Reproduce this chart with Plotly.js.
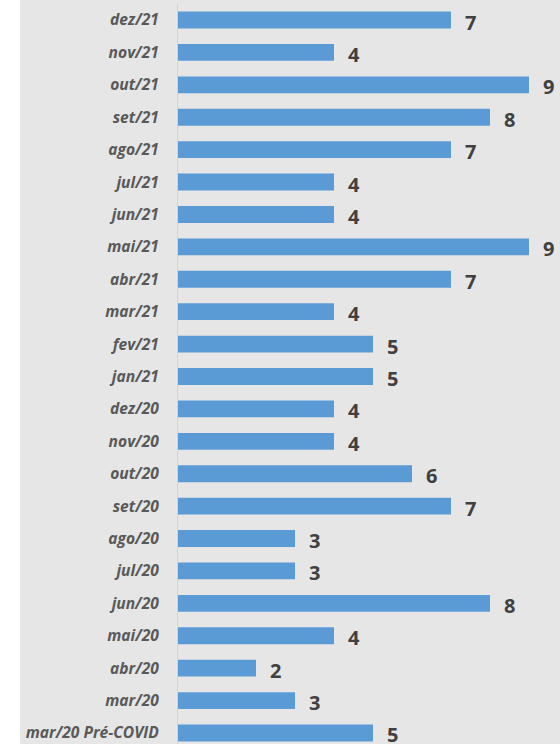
<!DOCTYPE html>
<html>
<head>
<meta charset="utf-8">
<script src="https://cdn.plot.ly/plotly-3.0.1.min.js"></script>
<style>html,body{margin:0;padding:0;background:#fff;}#chart{width:560px;height:744px;}</style>
</head>
<body>
<div id="chart"></div>
<script>
const categories = ["mar/20 Pré-COVID","mar/20","abr/20","mai/20","jun/20","jul/20","ago/20","set/20","out/20","nov/20","dez/20","jan/21","fev/21","mar/21","abr/21","mai/21","jun/21","jul/21","ago/21","set/21","out/21","nov/21","dez/21"];
const values = [5,3,2,4,8,3,3,7,6,4,4,5,5,4,7,9,4,4,7,8,9,4,7];

const trace = {
  type: 'bar',
  orientation: 'h',
  y: categories,
  x: values,
  marker: {color: '#5b9bd5'},
  hoverinfo: 'none'
};

const annotations = values.map((v, i) => ({
  x: v, y: categories[i], xref: 'x', yref: 'y',
  text: String(v), showarrow: false, xanchor: 'left', yanchor: 'middle',
  xshift: 12, yshift: -2, font: {family: 'Open Sans', size: 20, color: '#404040', weight: 'bold'}
}));

const layout = {
  width: 560, height: 744,
  margin: {l: 178, r: 0, t: 4, b: 0, pad: 0},
  paper_bgcolor: '#e6e6e6',
  plot_bgcolor: '#e6e6e6',
  bargap: 0.48,
  showlegend: false,
  xaxis: {range: [0, 382/39], visible: false, fixedrange: true},
  yaxis: {
    type: 'category',
    range: [-0.34, 22.494],
    showline: true, linecolor: '#d4d4d4', linewidth: 1,
    showgrid: false, zeroline: false, ticks: '',
    ticklabelstandoff: 15,
    tickfont: {family: 'Open Sans', size: 15.6, color: '#595959', weight: 'bold', style: 'italic'}
  },
  shapes: [{type: 'rect', xref: 'paper', yref: 'paper', x0: -178/382, x1: -158/382, y0: -0.01, y1: 1.01, fillcolor: '#ffffff', line: {width: 0}, layer: 'above'}],
  annotations: annotations
};

Plotly.newPlot('chart', [trace], layout, {displayModeBar: false, staticPlot: true});
</script>
</body>
</html>
